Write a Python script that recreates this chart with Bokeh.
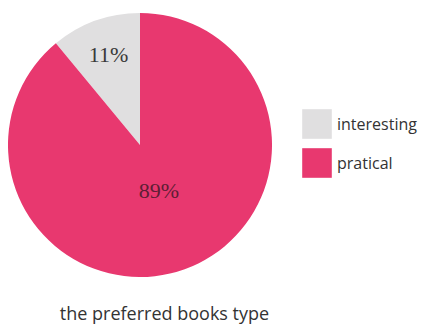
from math import pi
from bokeh.plotting import figure
from bokeh.models import ColumnDataSource, Legend, LegendItem, Label
from bokeh.embed import file_html
from bokeh.resources import INLINE

categories = ["interesting", "pratical"]
shares = [11, 89]
labels = ["11%", "89%"]
colors = ["#E0DFE0", "#E8386F"]
title_text = "the preferred books type"

W, H = 420, 325
p = figure(width=W, height=H, output_backend="svg", toolbar_location=None,
           x_range=(0, W), y_range=(0, H), min_border=0, outline_line_color=None)
p.axis.visible = False
p.grid.visible = False
p.background_fill_color = "white"

cx, cy, r = 139.5, H - 144.5, 132
total = sum(shares)
starts, ends = [], []
acc = 0.0
for s in shares:
    starts.append(pi / 2 + 2 * pi * acc / total)
    acc += s
    ends.append(pi / 2 + 2 * pi * acc / total)

src = ColumnDataSource(dict(cat=categories, start=starts, end=ends, color=colors,
                            x=[cx] * 2, y=[cy] * 2))
wedges = p.wedge(x="x", y="y", radius=r, start_angle="start", end_angle="end",
                 fill_color="color", line_color=None, source=src)

# percentage labels
label_pos = [(108, H - 53.5), (158.5, H - 190)]
label_colors = ["#3a3a3a", "#5e1e35"]
for (lx, ly), t, c in zip(label_pos, labels, label_colors):
    p.add_layout(Label(x=lx, y=ly, text=t, text_font="Liberation Serif",
                       text_font_size="22px", text_color=c,
                       text_align="center", text_baseline="middle"))

legend = Legend(items=[LegendItem(label=categories[i], renderers=[wedges], index=i)
                       for i in range(len(categories))],
                location=(298, H - 181), glyph_width=37, glyph_height=37,
                spacing=2, padding=0, margin=0, label_standoff=2,
                label_text_font="Open Sans", label_text_font_size="16px",
                label_text_color="#333333", border_line_color=None,
                background_fill_alpha=0)
p.add_layout(legend, "center")

p.add_layout(Label(x=164, y=H - 312, text=title_text, text_font="Open Sans",
                   text_font_size="18px", text_color="#333333",
                   text_align="center", text_baseline="middle"))

open("out.html", "w").write(file_html(p, INLINE))
